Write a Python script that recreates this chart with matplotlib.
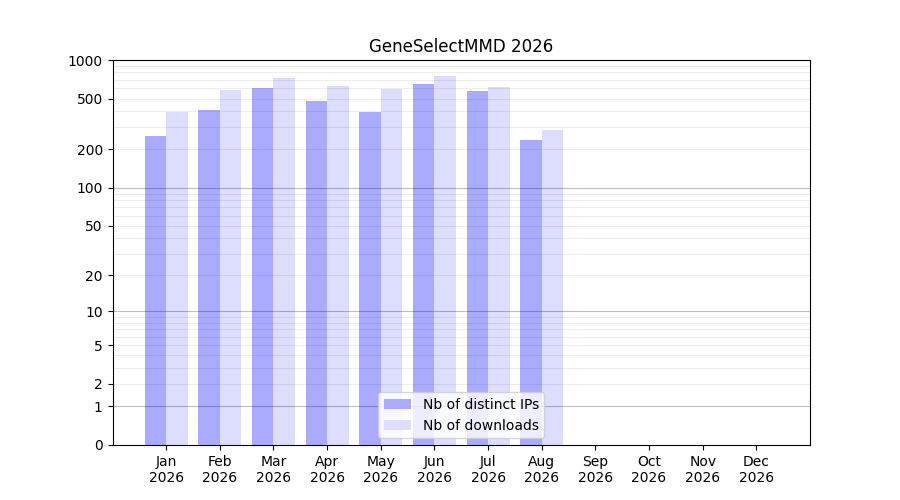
import numpy as np
import matplotlib
matplotlib.use('Agg')
import matplotlib.pyplot as plt
from matplotlib.ticker import FixedLocator, FixedFormatter

months = ['Jan', 'Feb', 'Mar', 'Apr', 'May', 'Jun',
          'Jul', 'Aug', 'Sep', 'Oct', 'Nov', 'Dec']
year = '2026'
distinct_ips = [255, 407, 606, 480, 393, 652, 574, 237]
downloads = [393, 585, 727, 629, 599, 753, 617, 284]
yticks = [0, 1, 2, 5, 10, 20, 50, 100, 200, 500, 1000]


def fwd(v):
    return np.log10(np.maximum(v, 0) + 1)


def inv(v):
    return 10 ** v - 1


def main():
    fig, ax = plt.subplots(figsize=(9, 5), dpi=100)
    ax.set_yscale('function', functions=(fwd, inv))
    x = np.arange(len(distinct_ips))
    ax.bar(x - 0.2, distinct_ips, width=0.4, color='#aaaaff',
           label='Nb of distinct IPs', zorder=1)
    ax.bar(x + 0.2, downloads, width=0.4, color='#ddddff',
           label='Nb of downloads', zorder=1)

    ax.set_xlim(-1, 12)
    ax.set_ylim(0, 1000)
    ax.set_xticks(np.arange(12))
    ax.set_xticklabels([m + '\n' + year for m in months])

    ax.yaxis.set_major_locator(FixedLocator(yticks))
    ax.yaxis.set_major_formatter(FixedFormatter([str(t) for t in yticks]))
    minor = [v * d for d in (1, 10, 100) for v in range(2, 10)]
    ax.yaxis.set_minor_locator(FixedLocator(minor))
    ax.tick_params(axis='y', which='minor', length=0)
    for v in (1, 10, 100):
        ax.axhline(v, color='black', alpha=0.25, linewidth=0.8, zorder=2)
    for v in minor:
        ax.axhline(v, color='black', alpha=0.07, linewidth=0.8, zorder=2)

    ax.set_title('GeneSelectMMD 2026')
    ax.legend(loc='lower center')
    fig.savefig('out.png')


if __name__ == '__main__':
    main()
